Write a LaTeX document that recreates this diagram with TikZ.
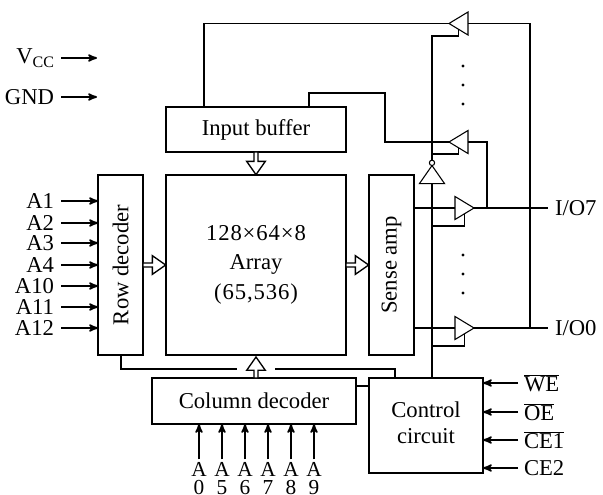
\documentclass[tikz,border=0pt]{standalone}
\usepackage{fontspec}
\setmainfont{Liberation Serif}
\usetikzlibrary{arrows, positioning, shapes.geometric, shapes.arrows}

\begin{document}
\begin{tikzpicture}[x=0.75pt, y=-0.75pt, line width=1.3pt, >=stealth', font=\fontsize{17}{20}\selectfont,
    block/.style={draw, inner sep=0pt, outer sep=0pt, anchor=north west},
    buffer/.style={draw, line width=0.8pt, fill=white, isosceles triangle, isosceles triangle stretches, inner sep=0pt, outer sep=0pt, minimum width=17.25pt, minimum height=14.25pt},
    bubble/.style={draw, line width=0.8pt, fill=white, circle, inner sep=0pt, outer sep=0pt, minimum size=4pt},
    busarrow/.style={draw, line width=1pt, fill=white, single arrow, inner sep=0pt, outer sep=0pt, single arrow head extend=1.8pt, minimum height=17pt, minimum width=14pt, single arrow tip angle=70},
    dotmark/.style={circle, fill, inner sep=0pt, minimum size=2.6pt},
    sig/.style={inner sep=0pt, outer sep=0pt}]
  \useasboundingbox (0,0) rectangle (603,495);
  % main blocks
  \node[block, minimum width=33.75pt, minimum height=135pt] (rowdec) at (98,175) {\rotatebox{90}{Row decoder}};
  \node[block, minimum width=135pt, minimum height=135pt, right=17.25pt of rowdec.north east, anchor=north west, align=center] (array) {\addfontfeature{LetterSpace=4}128×64×8\\[2pt]Array\\[2pt]\addfontfeature{LetterSpace=4}(65,536)\\[-16pt]};
  \node[block, minimum width=33.75pt, minimum height=135pt, right=17.25pt of array.north east, anchor=north west] (sense) {\rotatebox{90}{Sense amp}};
  \node[block, minimum width=135pt, minimum height=33.75pt, above=17.25pt of array.north west, anchor=south west] (inbuf) {Input buffer};
  \node[block, minimum width=153pt, minimum height=34.5pt] (coldec) at (152,378) {Column decoder};
  \node[block, minimum width=85.5pt, minimum height=71.25pt, align=center] (ctrl) at (369,378) {Control\\circuit\\[-15.5pt]};
  % buffers
  \node[buffer, shape border rotate=180] (bufa) at (461.5,23.5) {};
  \node[buffer, shape border rotate=180] (bufb) at (461.5,142) {};
  \node[buffer] (bufc) at (461.5,208) {};
  \node[buffer] (bufd) at (461.5,328) {};
  \node[buffer, shape border rotate=90, minimum width=18.75pt, minimum height=13.5pt] (inv) at (432,177) {};
  \node[bubble, above=0pt of inv.apex] (invb) {};
  % junction points
  \coordinate (ena) at (432,36);
  \coordinate (enb) at (432,154);
  \coordinate (enc) at (432,226);
  \coordinate (end) at (432,346);
  \coordinate (io7) at (548,208);
  \coordinate (io0) at (548,328);
  \coordinate (gapl) at (237,369);
  \coordinate (gapr) at (275,369);
  % wires of the buffers
  \draw (bufa.apex) -- (204,23.5) -- (inbuf.north -| 204,0);
  \draw (bufb.apex) -- (385,142) -- (385,93) -- (309,93) -- (inbuf.north -| 309,0);
  \draw (bufa.lower side) -- (530,23.5) -- (io0 -| 530,0);
  \draw (bufb.lower side) -- (487,142) -- (io7 -| 487,0);
  \draw (bufc.apex) -- (io7);
  \draw (bufd.apex) -- (io0);
  \draw (sense.east |- bufc.lower side) -- (bufc.lower side);
  \draw (sense.east |- bufd.lower side) -- (bufd.lower side);
  % enable lines
  \draw (ctrl.north -| inv.lower side) -- (inv.lower side);
  \draw (invb.north) -- (ena) -- (ena -| bufa.left side) -- (bufa.left side);
  \draw (enb) -- (enb -| bufb.left side) -- (bufb.left side);
  \draw (enc) -- (enc -| bufc.right side) -- (bufc.right side);
  \draw (end) -- (end -| bufd.right side) -- (bufd.right side);
  % control wires
  \draw (rowdec.south -| 121,0) -- (121,369) -- (gapl);
  \draw (gapr) -- (395,369) -- (ctrl.north -| 395,0);
  \draw (coldec.east |- 0,386) -- (ctrl.west |- 0,386);
  % bus arrows
  \node[busarrow, anchor=tail] (rowbus) at (rowdec.east) {};
  \node[busarrow, anchor=tail] (sensebus) at (array.east) {};
  \node[busarrow, anchor=tail, shape border rotate=270] (inbus) at (inbuf.south) {};
  \node[busarrow, anchor=tail, shape border rotate=90, minimum height=15.75pt] (colbus) at (coldec.north -| array.south) {};
  % dots
  \foreach \i/\y in {1/66, 2/85, 3/104, 4/255, 5/274, 6/293}
    \node[dotmark] (dot\i) at (463,\y) {};
  % left pins
  \foreach \name/\y in {A1/201, A2/223, A3/243, A4/265, A10/286, A11/307, A12/328}{
    \node[sig, anchor=east] (\name) at (54,\y) {\name};
    \draw[->] (\name.east -| 61,0) -- (rowdec.west |- 0,\y);
  }
  \node[sig, anchor=east] (vcc) at (54,58) {V\raisebox{-3pt}{\fontsize{12}{12}\selectfont CC}};
  \node[sig, anchor=east] (gnd) at (54,97) {GND};
  \coordinate (vccend) at (97,58);
  \coordinate (gndend) at (97,97);
  \draw[->] (61,58) -- (vccend);
  \draw[->] (61,97) -- (gndend);
  % column pins
  \foreach \n/\x in {0/199, 5/222, 6/245, 7/268, 8/291, 9/314}{
    \node[sig, align=center, anchor=north, font=\fontsize{16}{13.5}\selectfont] (col\n) at (\x,462) {A\\\n};
    \draw[->] ([yshift=2pt]col\n.north) -- (coldec.south -| \x,0);
  }
  % control pins
  \foreach \name/\lab/\y in {we/\overline{\mbox{WE}}/383, oe/\overline{\mbox{OE}}/412, ceone/\overline{\mbox{CE1}}/440, cetwo/\mbox{CE2}/468}{
    \node[sig, anchor=west] (\name) at (524,\y) {$\lab$};
    \draw[->] (\name.west -| 518,0) -- (ctrl.east |- 0,\y);
  }
  % outputs
  \node[sig, anchor=west] (io7lab) at (555,208) {I/O7};
  \node[sig, anchor=west] (io0lab) at (555,328) {I/O0};
\end{tikzpicture}
\end{document}
